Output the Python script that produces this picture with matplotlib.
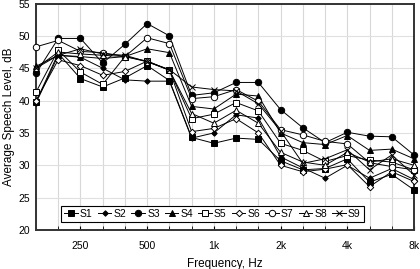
import matplotlib
matplotlib.use("Agg")
import matplotlib.pyplot as plt

plt.rcParams['font.family'] = ['Liberation Sans', 'DejaVu Sans']

# third-octave bands 160 Hz .. 8 kHz
bands = ['160', '200', '250', '315', '400', '500', '630', '800', '1k', '1.25k',
         '1.6k', '2k', '2.5k', '3.15k', '4k', '5k', '6.3k', '8k']
tick_labels = ['250', '500', '1k', '2k', '4k', '8k']

s1 = [39.8, 47.3, 43.4, 42.1, 43.5, 45.4, 43.1, 34.3, 33.4, 34.2, 34.0, 30.7, 29.3, 29.5, 31.0, 27.4, 28.6, 26.2]
s2 = [39.6, 47.0, 46.7, 45.0, 43.2, 43.0, 43.0, 34.2, 35.0, 37.8, 37.3, 31.3, 29.6, 28.0, 30.0, 28.0, 29.5, 27.8]
s3 = [44.2, 49.6, 49.6, 45.8, 48.7, 51.9, 50.0, 40.8, 41.2, 42.8, 42.8, 38.6, 35.8, 33.5, 35.1, 34.5, 34.4, 31.6]
s4 = [45.3, 47.0, 46.8, 46.5, 46.8, 48.0, 47.4, 39.1, 38.7, 41.0, 40.7, 35.0, 33.5, 33.2, 34.6, 32.3, 32.5, 31.0]
s5 = [41.3, 47.8, 44.4, 42.5, 46.8, 46.1, 44.7, 37.2, 37.9, 39.7, 38.4, 33.4, 32.3, 30.6, 31.5, 30.8, 30.5, 29.3]
s6 = [40.0, 46.3, 45.4, 43.9, 44.5, 46.1, 44.7, 35.2, 35.7, 37.2, 35.0, 30.0, 29.0, 29.4, 30.1, 26.7, 29.0, 27.5]
s7 = [48.3, 49.3, 47.6, 47.4, 46.8, 49.7, 48.8, 40.3, 40.6, 41.7, 39.9, 35.5, 34.7, 33.7, 33.3, 30.4, 29.8, 29.3]
s8 = [45.0, 47.5, 47.2, 47.0, 46.8, 46.0, 44.7, 38.0, 36.5, 38.5, 36.5, 32.0, 30.5, 30.0, 32.0, 30.5, 31.0, 30.0]
s9 = [45.0, 47.0, 48.0, 47.2, 47.0, 46.0, 44.8, 42.1, 41.7, 41.5, 39.5, 35.3, 30.3, 31.0, 32.4, 29.3, 31.6, 28.5]

series = [
    ('S1', s1, 's', 'k', 4.0),
    ('S2', s2, 'D', 'k', 2.8),
    ('S3', s3, 'o', 'k', 4.6),
    ('S4', s4, '^', 'k', 4.4),
    ('S5', s5, 's', 'w', 4.4),
    ('S6', s6, 'D', 'w', 3.3),
    ('S7', s7, 'o', 'w', 4.6),
    ('S8', s8, '^', 'w', 4.4),
    ('S9', s9, 'x', 'k', 4.6),
]

fig = plt.figure(figsize=(4.2, 2.69), dpi=100)
ax = fig.add_axes([36 / 420, 39 / 269, 378 / 420, 226.5 / 269])

x = list(range(len(bands)))
for name, vals, mk, fc, ms in series:
    ax.plot(x, vals, color='k', lw=0.7, marker=mk, markersize=ms,
            markerfacecolor=fc, markeredgecolor='k', markeredgewidth=0.7,
            label=name, clip_on=False, zorder=3)

ax.set_xlim(0, len(bands) - 1)
ax.set_ylim(20, 55)
ax.set_yticks(range(20, 56, 5))
ax.set_xticks(x, minor=True)
ax.set_xticks([bands.index(t) for t in tick_labels])
ax.set_xticklabels(tick_labels)
ax.grid(True, which='both', axis='x', color='#d8d8d8', lw=0.8)
ax.grid(True, which='major', axis='y', color='#e0e0e0', lw=0.8)
ax.set_axisbelow(True)
ax.tick_params(axis='x', which='both', direction='in', length=3, labelsize=7.5, pad=8)
ax.tick_params(axis='y', direction='in', length=0, labelsize=7.5, pad=4)
for sp in ax.spines.values():
    sp.set_linewidth(1.4)
    sp.set_color('#333333')

ax.set_xlabel('Frequency, Hz', fontsize=8.5, labelpad=5)
ax.set_ylabel('Average Speech Level, dB', fontsize=8.5, labelpad=3)

leg = ax.legend(loc='lower center', bbox_to_anchor=(0.467, 0.035), ncol=9,
                fontsize=7.5, frameon=True, fancybox=False, framealpha=1,
                edgecolor='k', handlelength=1.3, handletextpad=0.2,
                columnspacing=0.5, borderpad=0.3, borderaxespad=0)
leg.get_frame().set_linewidth(0.8)

fig.savefig('out.png', dpi=100)
